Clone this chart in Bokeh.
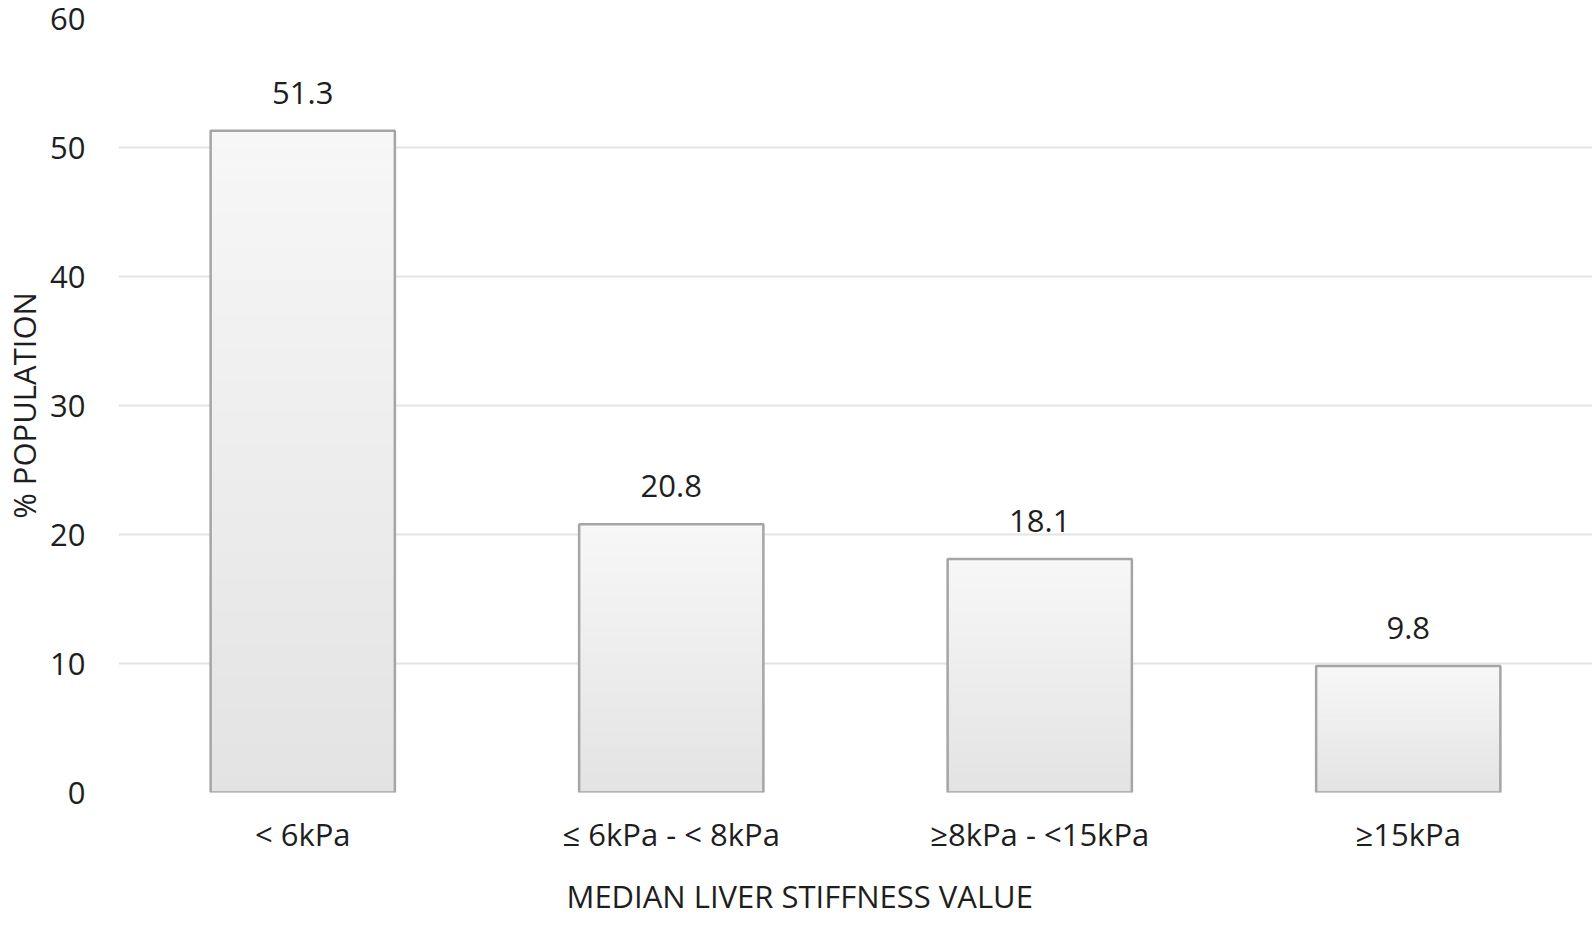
import numpy as np
from bokeh.plotting import figure
from bokeh.models import Range1d, FixedTicker, ColumnDataSource, Title
from bokeh.core.properties import value
from bokeh.embed import file_html
from bokeh.resources import INLINE

categories = ["< 6kPa", "≤ 6kPa - < 8kPa", "≥8kPa - <15kPa", "≥15kPa"]
values = [51.3, 20.8, 18.1, 9.8]
labels = ["51.3", "20.8", "18.1", "9.8"]
y_ticks = [0, 10, 20, 30, 40, 50, 60]
y_title = "% POPULATION"
x_title = "MEDIAN LIVER STIFFNESS VALUE"

FONT = "Open Sans"
TXT = "#1e1e1e"
FS = "31px"

p = figure(x_range=categories, y_range=Range1d(0, 60),
           width=1592, height=935,
           min_border_left=118, min_border_right=0, min_border_top=18, min_border_bottom=143,
           output_backend="svg", toolbar_location=None)
p.outline_line_color = None
p.background_fill_color = "white"

# gradient bars built from the data values
N = 40
xs, bots, tops, cols = [], [], [], []
c_bot = np.array([0xe3, 0xe3, 0xe3])
c_top = np.array([0xf7, 0xf7, 0xf7])
for cat, v in zip(categories, values):
    for k in range(N):
        t = (k + 0.5) / N
        c = (c_bot + (c_top - c_bot) * t).round().astype(int)
        xs.append(cat)
        bots.append(v * k / N)
        tops.append(v * (k + 1) / N)
        cols.append("#%02x%02x%02x" % tuple(c))
src = ColumnDataSource(dict(x=xs, bottom=bots, top=tops, color=cols))
p.vbar(x="x", bottom="bottom", top="top", width=0.5, source=src,
       fill_color="color", line_color="color", line_width=1)

bars = ColumnDataSource(dict(x=categories, top=values, label=labels))
p.vbar(x="x", top="top", bottom=0, width=0.5, source=bars,
       fill_color=None, line_color="#a5a5a5", line_width=2.5)

p.text(x="x", y="top", text="label", source=bars, text_align="center",
       text_baseline="alphabetic", y_offset=-38,
       text_font=value(FONT), text_font_size=FS, text_color=TXT)

p.xgrid.grid_line_color = None
p.ygrid.grid_line_color = "#e4e4e4"
p.ygrid.grid_line_width = 2
p.yaxis.ticker = FixedTicker(ticks=y_ticks)

for ax in (p.xaxis[0], p.yaxis[0]):
    ax.axis_line_color = None
    ax.major_tick_line_color = None
    ax.minor_tick_line_color = None
    ax.major_tick_in = 0
    ax.major_tick_out = 0
    ax.major_label_text_font = FONT
    ax.major_label_text_font_size = FS
    ax.major_label_text_color = TXT
    ax.axis_label_text_font = FONT
    ax.axis_label_text_font_size = FS
    ax.axis_label_text_font_style = "normal"
    ax.axis_label_text_color = TXT

p.yaxis.major_label_standoff = 33
p.yaxis.axis_label = y_title
p.yaxis.axis_label_standoff = 2
p.xaxis.major_label_standoff = 20

# x axis title centred on the whole chart, as in the reference
p.add_layout(Title(text=x_title, align="left", offset=448, standoff=31,
                   vertical_align="bottom",
                   text_font=FONT, text_font_size=FS, text_font_style="normal",
                   text_color=TXT), "below")

open("out.html", "w").write(file_html(p, INLINE))
